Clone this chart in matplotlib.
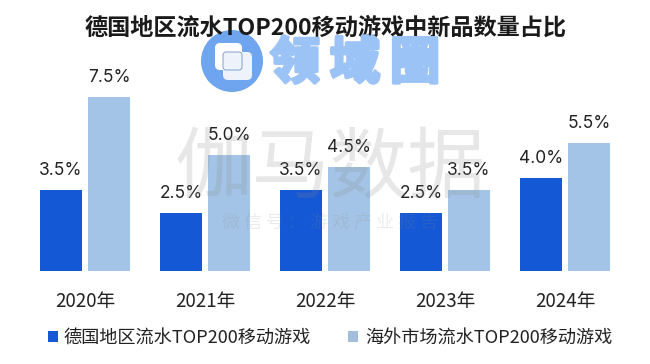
import matplotlib
matplotlib.use("Agg")
import matplotlib.pyplot as plt
import matplotlib.patheffects as pe
from matplotlib.patches import Circle, FancyBboxPatch, Rectangle
import numpy as np

plt.rcParams['font.family'] = ['Noto Sans CJK SC', 'DejaVu Sans']

years = ['2020年', '2021年', '2022年', '2023年', '2024年']
germany = [3.5, 2.5, 3.5, 2.5, 4.0]
overseas = [7.5, 5.0, 4.5, 3.5, 5.5]
germany_name = '德国地区流水TOP200移动游戏'
overseas_name = '海外市场流水TOP200移动游戏'
title = '德国地区流水TOP200移动游戏中新品数量占比'

W, H = 650, 364
fig = plt.figure(figsize=(W / 100, H / 100), dpi=100, facecolor='white')

# bars, baseline sits at y=271px
ax = fig.add_axes([0, (H - 271) / H, 1, 271 / H])
ax.set_xlim(-85 / 120, (W - 85) / 120)
ax.set_ylim(0, 271 / 23.2)
ax.axis('off')

x = np.arange(len(years))
ax.bar(x - 0.2, germany, width=0.35, color='#1558d6')
ax.bar(x + 0.2, overseas, width=0.35, color='#a3c4e6')

for i in range(len(years)):
    ax.annotate('%.1f%%' % germany[i], (x[i] - 0.2, germany[i]), xytext=(0, 11),
                textcoords='offset pixels', ha='center', va='bottom', fontsize=12.5,
                family='Inter', color='#222222')
    ax.annotate('%.1f%%' % overseas[i], (x[i] + 0.2, overseas[i]), xytext=(0, 11),
                textcoords='offset pixels', ha='center', va='bottom', fontsize=12.5,
                family='Inter', color='#222222')
    ax.annotate(years[i], (x[i], 0), xytext=(0, -30), textcoords='offset pixels',
                ha='center', va='center', fontsize=13.5, color='#222222',
                annotation_clip=False)

# overlay in pixel coordinates for title, legend and watermarks
ov = fig.add_axes([0, 0, 1, 1], facecolor='none')
ov.set_xlim(0, W)
ov.set_ylim(H, 0)
ov.axis('off')

ov.text(326, 28, title, ha='center', va='center', fontsize=16.7, fontweight='bold', color='#1a1a1a')

ov.add_patch(Rectangle((48, 331), 10, 11, color='#1558d6', lw=0))
ov.text(63, 338, germany_name, ha='left', va='center', fontsize=13.1, color='#222222')
ov.add_patch(Rectangle((348, 331), 10, 11, color='#a3bedb', lw=0))
ov.text(365, 338, overseas_name, ha='left', va='center', fontsize=13.1, color='#222222')

# watermarks
ov.text(330, 170, '伽马数据', ha='center', va='center', fontsize=56, fontweight='light', color='#888888', alpha=0.2)
ov.text(330, 223, '微 信 号 ： 游 戏 产 业 报 告', ha='center', va='center', fontsize=13, color='#888888', alpha=0.16)

ov.add_patch(Circle((232, 61), 31, color='#6fa5ef', lw=0))
ov.add_patch(FancyBboxPatch((215, 43), 27, 27, boxstyle='round,pad=0,rounding_size=5', fc='white', ec='none'))
ov.add_patch(FancyBboxPatch((223, 52), 29, 28, boxstyle='round,pad=0,rounding_size=5', fc='#eef3fb', ec='none'))
ov.add_patch(FancyBboxPatch((223, 52), 19, 18, boxstyle='round,pad=0,rounding_size=3', fc='none', ec='#7f9fca', lw=0.7))
for cx, ch in zip([295, 355, 415], '领域圈'):
    ov.text(cx, 64, ch, ha='center', va='center', fontsize=36, fontweight='black', color='#9cc3f5',
            path_effects=[pe.withStroke(linewidth=2.5, foreground='#9cc3f5')])

fig.savefig('out.png', dpi=100)
